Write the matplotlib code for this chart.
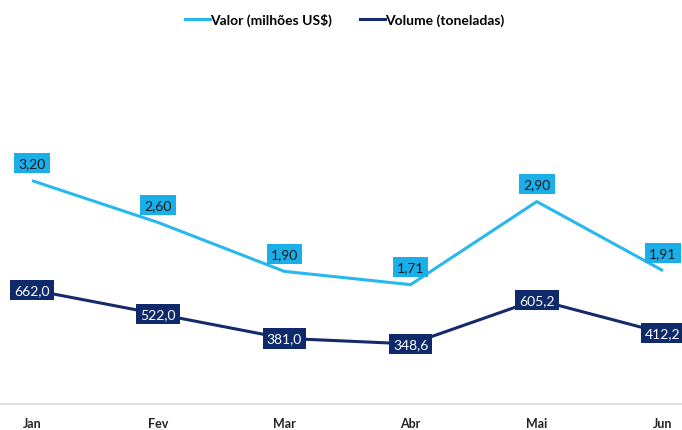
import matplotlib.pyplot as plt
from matplotlib.lines import Line2D

plt.rcParams['font.family'] = ['Lato', 'DejaVu Sans']

meses = ['Jan', 'Fev', 'Mar', 'Abr', 'Mai', 'Jun']
valor = [3.20, 2.60, 1.90, 1.71, 2.90, 1.91]
volume = [662.0, 522.0, 381.0, 348.6, 605.2, 412.2]

cor_valor = '#29B8EE'
cor_volume = '#15296B'
box_valor = '#1AAFE8'
box_volume = '#0F2A6A'

fig = plt.figure(figsize=(6.82, 4.31), dpi=100)
ax = fig.add_axes([0.0, 26 / 431, 1.0, 349 / 431])
ax2 = ax.twinx()

x = list(range(len(meses)))
ax.plot(x, valor, color=cor_valor, linewidth=2.2, solid_capstyle='butt')
ax2.plot(x, volume, color=cor_volume, linewidth=2.2, solid_capstyle='butt')

ax.set_xlim(-32 / 126.2, 5 + 19 / 126.2)
ax.set_ylim(0, 5)
ax2.set_ylim(0, 2025)

for a in (ax, ax2):
    for s in ['top', 'left', 'right']:
        a.spines[s].set_visible(False)
    a.set_yticks([])
ax2.spines['bottom'].set_visible(False)
ax.spines['bottom'].set_color('#D9D9D9')
ax.spines['bottom'].set_linewidth(1.2)

ax.set_xticks(x)
ax.set_xticklabels(meses, fontsize=9, fontweight='bold', color='#222222')
ax.tick_params(axis='x', length=0, pad=9.5)

for xi, v in zip(x, valor):
    ax.annotate(f'{v:.2f}'.replace('.', ','), (xi, v), xytext=(0, 12.5),
                textcoords='offset points', ha='center', va='center',
                fontsize=10, color='#1A1A1A',
                bbox=dict(boxstyle='square,pad=0.3', fc=box_valor, ec='none'))

for xi, v in zip(x, volume):
    ax2.annotate(f'{v:.1f}'.replace('.', ','), (xi, v), xytext=(0, 0),
                 textcoords='offset points', ha='center', va='center',
                 fontsize=10, color='white',
                 bbox=dict(boxstyle='square,pad=0.3', fc=box_volume, ec='none'))

handles = [Line2D([], [], color=cor_valor, linewidth=2.2),
           Line2D([], [], color=cor_volume, linewidth=2.2)]
fig.legend(handles, ['Valor (milhões US$)', 'Volume (toneladas)'],
           loc='center', bbox_to_anchor=(0.505, 0.953), ncol=2, frameon=False,
           prop={'size': 10, 'weight': 'bold'}, handlelength=1.8,
           handletextpad=0.0, columnspacing=2.0)

fig.savefig('out.png', dpi=100, facecolor='white')
